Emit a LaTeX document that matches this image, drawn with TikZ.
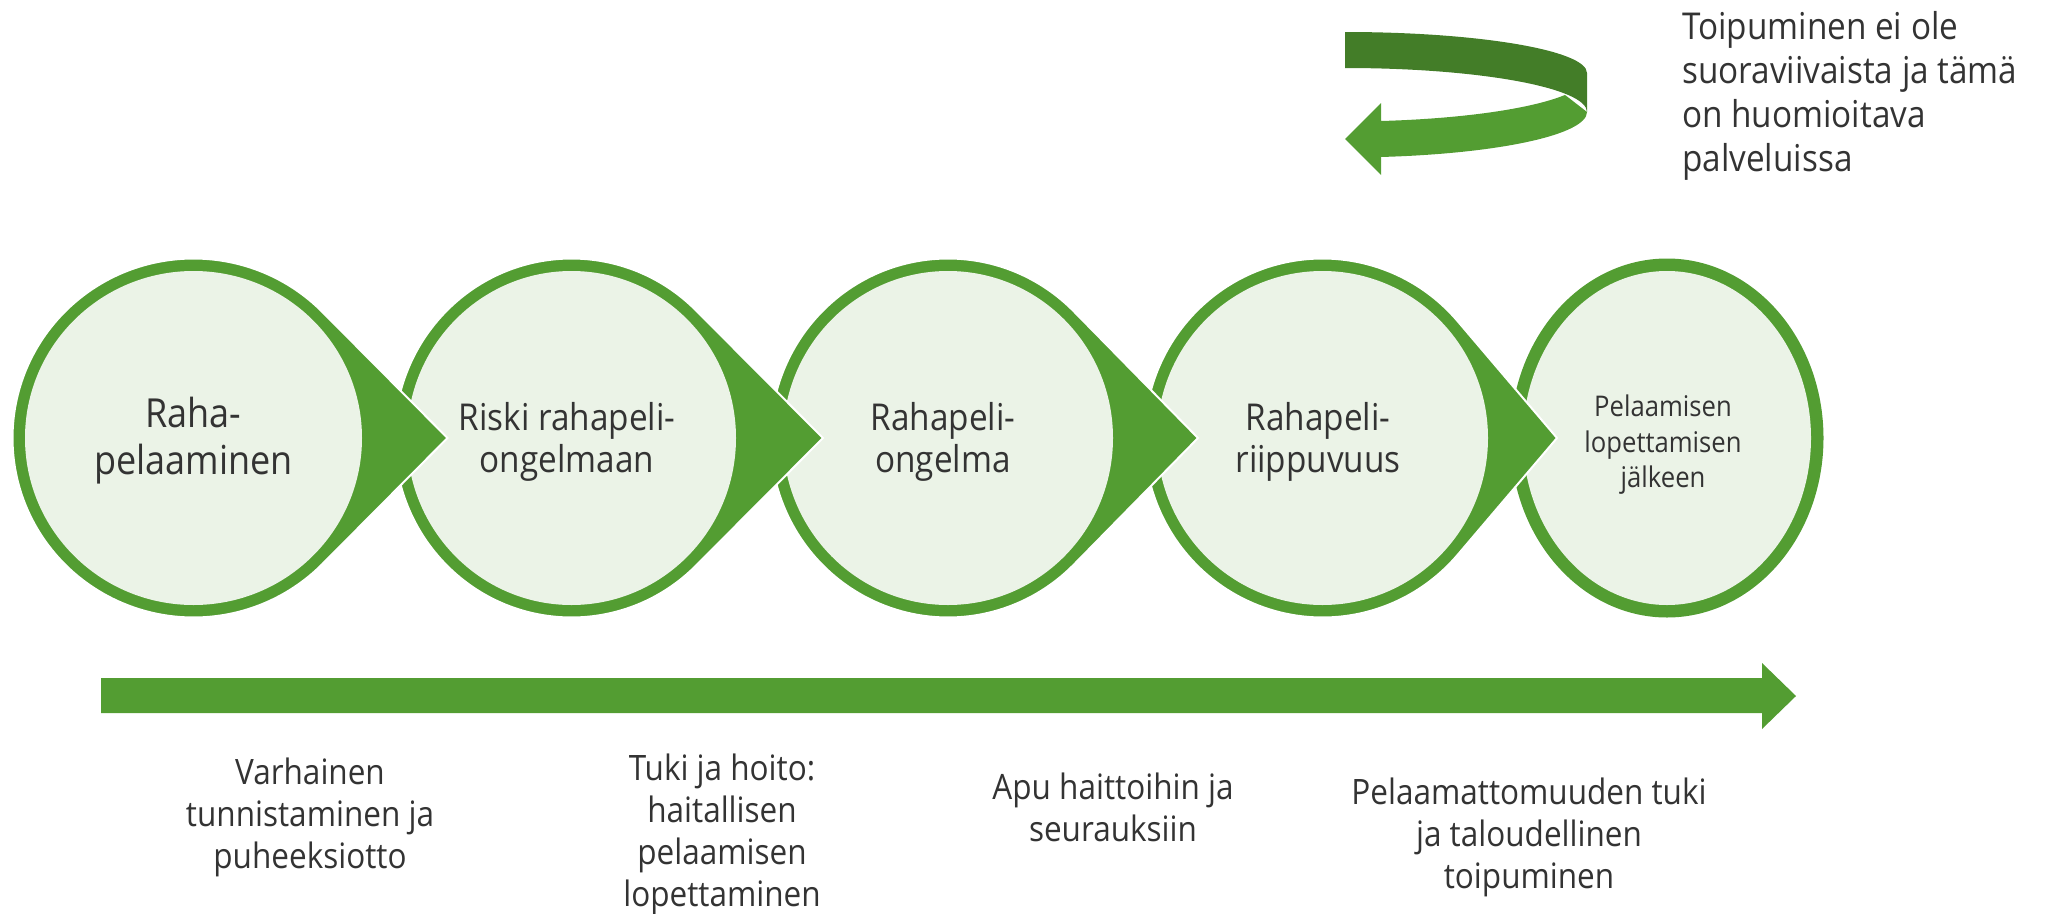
\documentclass[tikz,border=0pt]{standalone}
\usepackage{fontspec}
\setmainfont{Open Sans}[FakeStretch=0.9]
\definecolor{ring}{HTML}{539D32}
\definecolor{innerc}{HTML}{EBF3E7}
\definecolor{darkg}{HTML}{437D28}
\definecolor{txt}{HTML}{333333}
% teardrop: cx cy a b d (image coordinates, y downwards)
\newcommand\tdrop[5]{%
  \fill[ring, draw=white, line width=2pt]
    (#1+#5,-#2) -- ({#1+(#3/#5)*#3},{-#2+#4*sin(acos(#3/#5))})
    arc[start angle={acos(#3/#5)}, end angle={360-acos(#3/#5)}, x radius=#3pt, y radius=#4pt] -- cycle;}
\tikzset{
  lbl/.style={text=txt, align=center, inner sep=0pt},
}
\begin{document}
\begin{tikzpicture}[x=1pt,y=1pt]
\useasboundingbox (0,0) rectangle (2048,-913);
% circle 5
\fill[ring] (1667,-438) ellipse [x radius=156.5pt, y radius=179.5pt];
\fill[innerc] (1667,-438) ellipse [x radius=144pt, y radius=167pt];
% circle 4
\tdrop{1322.5}{438}{178}{179.5}{234.5}
\fill[innerc] (1322.5,-438) ellipse [x radius=165.5pt, y radius=167pt];
% circle 3
\tdrop{948}{438}{177.5}{179.5}{250}
\fill[innerc] (948,-438) ellipse [x radius=165pt, y radius=167pt];
% circle 2
\tdrop{571.5}{438}{177}{179.5}{251.5}
\fill[innerc] (571.5,-438) ellipse [x radius=164.5pt, y radius=167pt];
% circle 1
\tdrop{193.5}{438}{181}{179.5}{254}
\fill[innerc] (193.5,-438) ellipse [x radius=168.5pt, y radius=167pt];
% circle labels
\node[lbl, font=\fontsize{40}{47}\selectfont, anchor=north] (c1) at (193.5,-397) {Raha-\\pelaaminen};
\node[lbl, font=\fontsize{37}{42}\selectfont, anchor=north] (c2) at (567,-402) {Riski rahapeli-\\ongelmaan};
\node[lbl, font=\fontsize{37}{42}\selectfont, anchor=north] (c3) at (943,-402) {Rahapeli-\\ongelma};
\node[lbl, font=\fontsize{37}{42}\selectfont, anchor=north] (c4) at (1318,-402) {Rahapeli-\\riippuvuus};
\node[lbl, font=\fontsize{28.5}{35.5}\selectfont, anchor=north] (c5) at (1663,-395) {Pelaamisen\\lopettamisen\\jälkeen};
% main arrow
\fill[ring] (101,-678) -- (1762,-678) -- (1762,-663) -- (1796,-696) -- (1762,-729) -- (1762,-713) -- (101,-713) -- cycle;
% curved arrow
\fill[darkg] (1345,-32) arc[start angle=90, end angle=0, x radius=242pt, y radius=41pt]
  -- (1587,-112) arc[start angle=0, end angle=90, x radius=242pt, y radius=44pt] -- cycle;
\fill[ring] (1381,-121) arc[start angle=-81.44, end angle=-24.6, x radius=242pt, y radius=45.5pt]
  -- (1587,-112) arc[start angle=0, end angle=-81.44, x radius=242pt, y radius=45.5pt]
  -- (1381,-175) -- (1345,-139) -- (1381,-103) -- cycle;
\node[lbl, align=left, anchor=north west, font=\fontsize{37}{44}\selectfont] (note) at (1682,-11) {Toipuminen ei ole\\suoraviivaista ja tämä\\on huomioitava\\palveluissa};
% bottom labels
\node[lbl, font=\fontsize{35}{42}\selectfont, anchor=north] (b1) at (310,-758) {Varhainen\\tunnistaminen ja\\puheeksiotto};
\node[lbl, font=\fontsize{35}{42}\selectfont, anchor=north] (b2) at (722,-754) {Tuki ja hoito:\\haitallisen\\pelaamisen\\lopettaminen};
\node[lbl, font=\fontsize{35}{42}\selectfont, anchor=north] (b3) at (1113,-773) {Apu haittoihin ja\\seurauksiin};
\node[lbl, font=\fontsize{35}{42}\selectfont, anchor=north] (b4) at (1529,-778) {Pelaamattomuuden tuki\\ja taloudellinen\\toipuminen};
\end{tikzpicture}
\end{document}
